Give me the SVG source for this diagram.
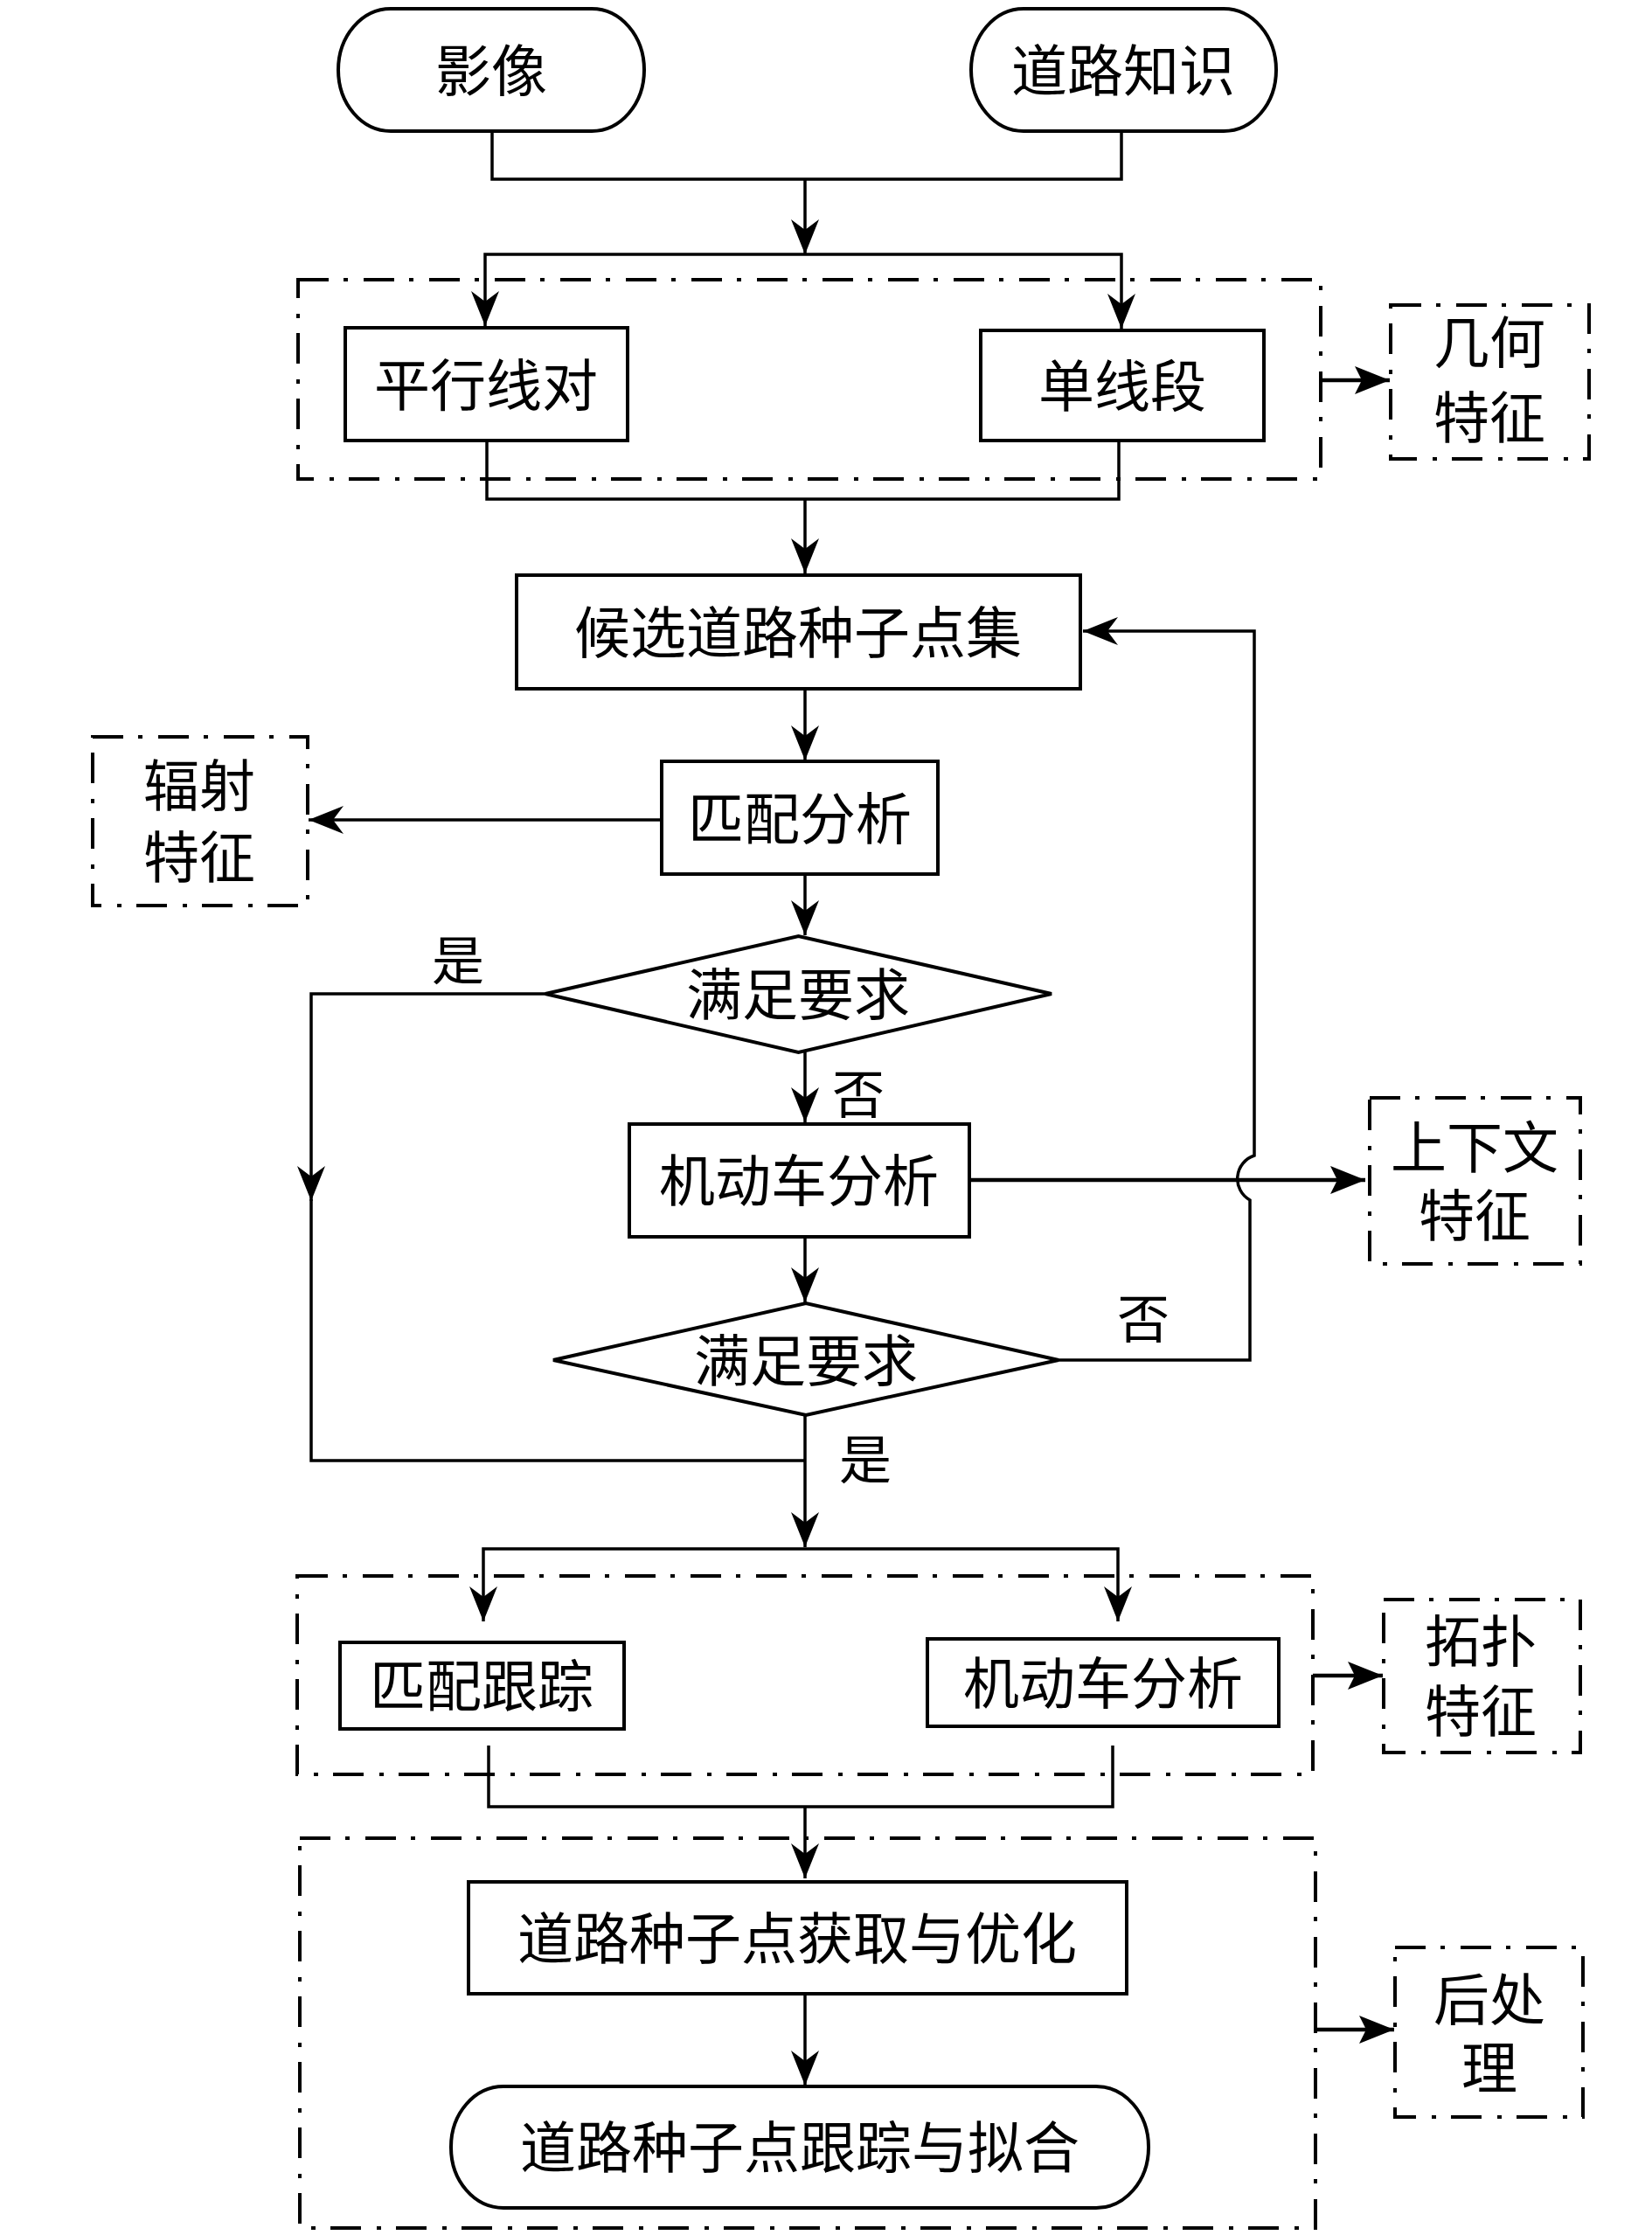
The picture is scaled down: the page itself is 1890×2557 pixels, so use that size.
<svg xmlns="http://www.w3.org/2000/svg" width="1890" height="2557" viewBox="0 0 1890 2557">
<style>
.bx{fill:#fff;stroke:#000;stroke-width:4}
.dd{fill:none;stroke:#000;stroke-width:4;stroke-dasharray:35 17 5 18}
.ln{fill:none;stroke:#000;stroke-width:3.5}
.tk{fill:none;stroke:#000;stroke-width:4.5}
text{font-family:"Liberation Sans","Noto Sans CJK SC","Noto Sans CJK JP",sans-serif;font-size:64px;fill:#000;text-anchor:middle}
.lb{font-size:60px}
</style>
<defs>
<marker id="arr" viewBox="-44 -18 46 36" refX="0" refY="0" markerWidth="46" markerHeight="36" orient="auto" markerUnits="userSpaceOnUse">
<path d="M0,0 L-40,-16 L-28,0 L-40,16 Z" fill="#000"/>
</marker>
<marker id="arrT" viewBox="-44 -18 46 36" refX="0" refY="0" markerWidth="46" markerHeight="36" orient="auto" markerUnits="userSpaceOnUse">
<path d="M0,0 L-40,-16 L-32,0 L-40,16 Z" fill="#000"/>
</marker>
</defs>
<rect width="1890" height="2557" fill="#fff"/>

<g id="connectors">
<path class="ln" d="M563,150 V205 H1283 V150"/>
<path class="ln" d="M921,205 V291" marker-end="url(#arr)"/>
<path class="ln" d="M921,291 H555 V373" marker-end="url(#arr)"/>
<path class="ln" d="M921,291 H1283 V376" marker-end="url(#arr)"/>
<path class="ln" d="M557,504 V571 H1280 V504"/>
<path class="ln" d="M921,571 V656" marker-end="url(#arr)"/>
<path class="ln" d="M921,788 V870" marker-end="url(#arr)"/>
<path class="ln" d="M757,938 H353" marker-end="url(#arr)"/>
<path class="ln" d="M921,1000 V1070" marker-end="url(#arr)"/>
<path class="ln" d="M624,1137 H356 V1374" marker-end="url(#arr)"/>
<path class="ln" d="M356,1372 V1671 H921"/>
<path class="ln" d="M921,1204 V1284" marker-end="url(#arr)"/>
<path class="ln" d="M921,1415 V1490" marker-end="url(#arr)"/>
<path class="tk" d="M1109,1350 H1562" marker-end="url(#arrT)"/>
<path class="ln" d="M1211,1556 H1430 V1373 A28,28 0 0 1 1435,1322 V722 H1239" marker-end="url(#arr)"/>
<path class="ln" d="M921,1619 V1770" marker-end="url(#arr)"/>
<path class="ln" d="M921,1772 H553 V1855" marker-end="url(#arr)"/>
<path class="ln" d="M921,1772 H1279 V1855" marker-end="url(#arr)"/>
<path class="ln" d="M559,1997 V2067 H1273 V1997"/>
<path class="ln" d="M921,2067 V2149" marker-end="url(#arr)"/>
<path class="ln" d="M921,2281 V2386" marker-end="url(#arr)"/>
<path class="tk" d="M1511,435 H1590" marker-end="url(#arrT)"/>
<path class="tk" d="M1502,1917 H1582" marker-end="url(#arrT)"/>
<path class="tk" d="M1505,2322 H1595" marker-end="url(#arrT)"/>
<text class="lb" x="524" y="1121">是</text>
<text class="lb" x="982" y="1274">否</text>
<text class="lb" x="1308" y="1531">否</text>
<text class="lb" x="990" y="1692">是</text>
</g>

<g id="grp-geom"><rect class="dd" x="341" y="320" width="1170" height="228"/></g>
<g id="grp-topo"><rect class="dd" x="340" y="1803" width="1162" height="227"/></g>
<g id="grp-post"><rect class="dd" x="343" y="2103" width="1162" height="446"/></g>

<g id="n-image"><rect class="bx" x="387" y="10" width="350" height="140" rx="60" ry="70"/><text x="562" y="104">影像</text></g>
<g id="n-knowledge"><rect class="bx" x="1111" y="10" width="349" height="140" rx="60" ry="70"/><text x="1285" y="104">道路知识</text></g>
<g id="n-parallel"><rect class="bx" x="395" y="375" width="323" height="129"/><text x="556" y="464">平行线对</text></g>
<g id="n-single"><rect class="bx" x="1122" y="378" width="324" height="126"/><text x="1284" y="465">单线段</text></g>
<g id="n-geomfeat"><rect class="dd" x="1591" y="349" width="227" height="176"/><text x="1704" y="415">几何<tspan x="1704" dy="86">特征</tspan></text></g>
<g id="n-candidate"><rect class="bx" x="591" y="658" width="645" height="130"/><text x="913" y="747">候选道路种子点集</text></g>
<g id="n-match"><rect class="bx" x="757" y="871" width="316" height="129"/><text x="915" y="960">匹配分析</text></g>
<g id="n-radfeat"><rect class="dd" x="106" y="843" width="246" height="193"/><text x="228" y="922">辐射<tspan x="228" dy="82">特征</tspan></text></g>
<g id="n-dec1"><polygon class="bx" points="624,1137 913.5,1071 1203,1137 913.5,1204"/><text x="913" y="1161">满足要求</text></g>
<g id="n-vehicle"><rect class="bx" x="720" y="1286" width="389" height="129"/><text x="914" y="1374">机动车分析</text></g>
<g id="n-ctxfeat"><rect class="dd" x="1567" y="1256" width="241" height="190"/><text x="1687" y="1336">上下文<tspan x="1687" dy="78">特征</tspan></text></g>
<g id="n-dec2"><polygon class="bx" points="633,1556 922,1491 1211,1556 922,1619"/><text x="922" y="1580">满足要求</text></g>
<g id="n-matchtrack"><rect class="bx" x="389" y="1879" width="325" height="99"/><text x="551" y="1952">匹配跟踪</text></g>
<g id="n-vehicle2"><rect class="bx" x="1061" y="1875" width="402" height="100"/><text x="1262" y="1949">机动车分析</text></g>
<g id="n-topofeat"><rect class="dd" x="1583" y="1830" width="225" height="175"/><text x="1694" y="1901">拓扑<tspan x="1694" dy="80">特征</tspan></text></g>
<g id="n-acquire"><rect class="bx" x="536" y="2153" width="753" height="128"/><text x="912" y="2241">道路种子点获取与优化</text></g>
<g id="n-fit"><rect class="bx" x="516" y="2387" width="798" height="139" rx="60" ry="69"/><text x="915" y="2480">道路种子点跟踪与拟合</text></g>
<g id="n-post"><rect class="dd" x="1596" y="2228" width="215" height="194"/><text x="1704" y="2311">后处<tspan x="1704" dy="78">理</tspan></text></g>
</svg>
